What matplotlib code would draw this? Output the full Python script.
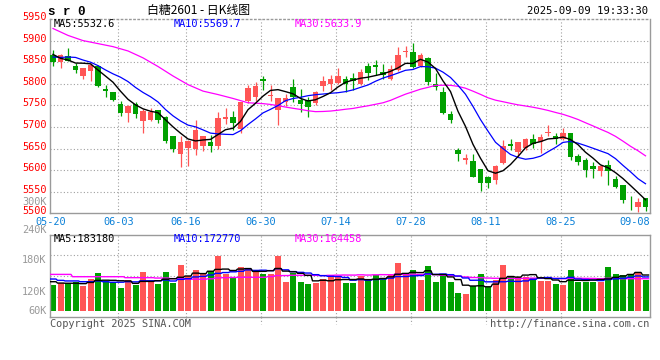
import numpy as np
import matplotlib
matplotlib.use('Agg')
import matplotlib.pyplot as plt
from matplotlib import transforms

plt.rcParams.update({
    'font.family': 'DejaVu Sans Mono',
    'font.size': 7.2,
    'figure.facecolor': 'white',
    'axes.facecolor': 'white',
})

RED = '#FF5555'
GREEN = '#00A000'
GRID = '#A0A0A0'
BORDER = '#9A9A9A'

# ---- daily candles 05-20 .. 09-09 ----
opens = [5867, 5850, 5864, 5842, 5817, 5829, 5841, 5789, 5780, 5752,
         5732, 5754, 5714, 5715, 5740, 5724, 5678, 5638, 5651, 5649,
         5657, 5665, 5657, 5718, 5724, 5695, 5760, 5769, 5810, 5771,
         5740, 5758, 5793, 5763, 5763, 5755, 5794, 5800, 5801, 5812,
         5814, 5800, 5842, 5843, 5827, 5810, 5832, 5874, 5874, 5840,
         5860, 5800, 5782, 5730, 5646, 5623, 5621, 5602, 5585, 5577,
         5617, 5660, 5641, 5652, 5672, 5664, 5686, 5678, 5671, 5685,
         5632, 5623, 5609, 5598, 5613, 5579, 5565, 5525, 5515, 5535]
highs = [5879, 5869, 5883, 5848, 5837, 5848, 5843, 5798, 5781, 5759,
         5750, 5757, 5741, 5745, 5740, 5726, 5678, 5678, 5669, 5715,
         5680, 5681, 5734, 5743, 5736, 5757, 5796, 5805, 5817, 5796,
         5767, 5777, 5812, 5787, 5769, 5783, 5817, 5820, 5836, 5819,
         5826, 5834, 5847, 5856, 5846, 5843, 5886, 5888, 5894, 5872,
         5861, 5824, 5793, 5736, 5651, 5637, 5637, 5603, 5587, 5612,
         5669, 5672, 5666, 5675, 5683, 5683, 5704, 5687, 5697, 5687,
         5638, 5629, 5618, 5611, 5624, 5586, 5565, 5540, 5535, 5536]
lows = [5842, 5836, 5852, 5824, 5810, 5806, 5792, 5769, 5759, 5725,
        5711, 5720, 5686, 5714, 5708, 5663, 5642, 5608, 5610, 5635,
        5644, 5642, 5650, 5706, 5694, 5687, 5756, 5760, 5785, 5761,
        5704, 5749, 5758, 5734, 5724, 5750, 5783, 5786, 5800, 5780,
        5785, 5796, 5809, 5821, 5811, 5809, 5830, 5863, 5836, 5838,
        5798, 5786, 5729, 5709, 5621, 5615, 5583, 5552, 5558, 5569,
        5615, 5646, 5631, 5646, 5652, 5640, 5680, 5660, 5669, 5623,
        5611, 5585, 5582, 5587, 5565, 5559, 5525, 5508, 5502, 5505]
closes = [5850, 5866, 5853, 5833, 5836, 5843, 5794, 5783, 5762, 5732,
          5749, 5730, 5737, 5734, 5715, 5667, 5648, 5664, 5667, 5692,
          5678, 5655, 5720, 5723, 5709, 5757, 5791, 5794, 5806, 5775,
          5766, 5768, 5769, 5752, 5746, 5780, 5806, 5812, 5819, 5800,
          5806, 5827, 5824, 5838, 5820, 5835, 5867, 5876, 5838, 5867,
          5803, 5793, 5732, 5715, 5638, 5628, 5585, 5571, 5571, 5609,
          5657, 5657, 5664, 5672, 5660, 5677, 5688, 5671, 5687, 5631,
          5618, 5600, 5603, 5609, 5598, 5561, 5531, 5523, 5527, 5515]
volumes = [135, 144, 147, 152, 132, 166, 197, 152, 149, 121,
           161, 135, 202, 149, 138, 202, 147, 239, 182, 213,
           190, 208, 287, 190, 176, 228, 220, 213, 192, 192,
           287, 151, 196, 151, 140, 144, 166, 183, 178, 145,
           145, 180, 166, 187, 166, 187, 249, 187, 213, 161,
           234, 151, 187, 151, 93, 88, 130, 192, 126, 161,
           239, 177, 177, 178, 173, 157, 156, 140, 135, 213,
           152, 152, 152, 149, 228, 192, 187, 192, 202, 161]

# moving averages before enough days are on the chart
ma5_head = [5868, 5859, 5855, 5848]
ma10_head = [5862, 5861, 5862, 5861, 5855, 5850, 5842, 5832, 5823]
ma30_head_idx = [0, 2, 4, 6, 8, 10, 12, 14, 16, 18, 20, 22, 24, 26, 28]
ma30_head = [5928, 5912, 5900, 5893, 5886, 5876, 5860, 5840, 5818, 5798,
             5783, 5775, 5766, 5756, 5754]
vma5_head = [152, 145, 144, 144]
vma10_head = [166, 159, 156, 156, 152, 152, 156, 152, 149]
vma30_head = [190, 190, 190, 178, 178, 178, 178, 178, 178, 178,
              173, 173, 173, 173, 171, 171, 168, 168, 165, 165,
              165, 167, 172, 173, 174, 175, 175, 175, 175]

date_labels = ['05-20', '06-03', '06-16', '06-30', '07-14',
               '07-28', '08-11', '08-25', '09-08']
date_idx = [0, 9, 18, 28, 38, 48, 58, 68, 78]
price_ticks = [5500, 5550, 5600, 5650, 5700, 5750, 5800, 5850, 5900, 5950]
vol_labels = ['240K', '180K', '120K', '60K']


def rolling(vals, n, head):
    out = list(head)
    for i in range(len(head), len(vals)):
        out.append(np.mean(vals[i - n + 1:i + 1]))
    return np.array(out)


W, H = 660, 360


def fx(px):
    return px / W


def fy(py):
    return 1 - py / H


fig = plt.figure(figsize=(6.6, 3.6), dpi=100)
ax_p = fig.add_axes([fx(50), fy(213.3), 600 / W, (213.3 - 19) / H])
ax_v = fig.add_axes([fx(50), fy(317.4), 600 / W, (317.4 - 234.6) / H])

n = len(closes)
x = np.arange(n)
o, h, l, c = map(np.array, (opens, highs, lows, closes))
vol = np.array(volumes)
cols = np.where(c >= o, RED, GREEN)

# ---- price panel ----
ax = ax_p
ax.set_xlim(-0.4, 79.6)
ax.set_ylim(5500, 5950)
for p in price_ticks[1:-1]:
    ax.axhline(p, color=GRID, lw=0.8, ls=(0, (1, 2)), zorder=0)
for d in date_idx[1:-1]:
    ax.axvline(d - 0.3, color=GRID, lw=0.8, ls=(0, (1, 2)), zorder=0)
    ax_v.axvline(d - 0.3, color=GRID, lw=0.8, ls=(0, (1, 2)), zorder=0)
    ax_v.plot([d - 0.3, d - 0.3], [0, -0.08], color=GRID, lw=0.8,
              ls=(0, (1, 2)), transform=ax_v.get_xaxis_transform(), clip_on=False)

ax.vlines(x, l, h, colors=cols, lw=0.9, zorder=2)
body_lo = np.minimum(o, c)
body_h = np.maximum(np.abs(c - o), 1.5)
ax.bar(x, body_h, bottom=body_lo, width=0.74, color=cols, lw=0, zorder=3)

ma5 = rolling(c, 5, ma5_head)
ma10 = rolling(c, 10, ma10_head)
ma30_tail = [np.mean(c[i - 29:i + 1]) for i in range(29, n)]
ma30_x = ma30_head_idx + list(range(29, n))
ma30_y = ma30_head + ma30_tail
ax.plot(ma30_x, ma30_y, color='#FF00FF', lw=0.9, zorder=4)
ax.plot(x, ma10, color='#0000FF', lw=0.9, zorder=4)
ax.plot(x, ma5, color='black', lw=1.0, zorder=5)

ax.set_xticks([])
ax.set_yticks([])
for s in ax.spines.values():
    s.set_color(BORDER)
    s.set_linewidth(1)
ax.spines['top'].set_linestyle((0, (1, 2)))

lab_tr = transforms.offset_copy(ax.get_yaxis_transform(), fig=fig, y=2, units='dots')
for p in price_ticks:
    ax.text(-0.006, p, str(p), color='#FF0000', ha='right', va='center',
            transform=lab_tr, fontsize=7.4)
fig.text(fx(46.5), fy(201.7), '300K', color='#999999', ha='right', va='center',
         fontsize=7.4)

for lbl, d in zip(date_labels, date_idx):
    xx = d - 0.3 if d < 78 else d - 0.5
    ax.text(xx, -0.043, lbl, color='#0A80D8', ha='center', va='center',
            transform=ax.get_xaxis_transform(), fontsize=7.4)

# ---- volume panel ----
ax = ax_v
ax.set_xlim(-0.4, 79.6)
ax.set_ylim(-33.2, 396.5)
for f in (0.25, 0.5, 0.75):
    ax.axhline(-33.2 + f * (396.5 + 33.2), color=GRID, lw=0.8, ls=(0, (1, 2)), zorder=0)
ax.bar(x, vol, width=0.8, color=cols, lw=0, zorder=2)

vma5 = rolling(vol, 5, vma5_head)
vma10 = rolling(vol, 10, vma10_head)
vma30 = rolling(vol, 30, vma30_head)


def steps(vals):
    xs = np.ravel(np.column_stack([x - 0.4, x + 0.4]))
    ys = np.repeat(vals, 2)
    return xs, ys


for vals, colr in ((vma30, '#FF00FF'), (vma10, '#0000FF'), (vma5, 'black')):
    ax.plot(*steps(vals), color=colr, lw=1.0, zorder=4)

ax.set_xticks([])
ax.set_yticks([])
for s in ax.spines.values():
    s.set_color(BORDER)
    s.set_linewidth(1)

for lbl, py in zip(vol_labels, [230, 260, 292, 311]):
    fig.text(fx(46.5), fy(py), lbl, color='#999999', ha='right', va='center',
             fontsize=7.4)

# ---- header / footer texts ----
fig.text(fx(48), fy(12), 's r 0', fontfamily='Liberation Mono', fontweight='bold',
         fontsize=9, ha='left', va='center')
fig.text(fx(199), fy(10.5), '白糖2601 - 日K线图', ha='center', va='center',
         fontsize=8.6, family=['Noto Sans CJK SC', 'DejaVu Sans'])
fig.text(fx(648), fy(11.5), '2025-09-09 19:33:30', ha='right', va='center',
         fontsize=7.6)

fig.text(fx(54), fy(24), 'MA5:5532.6', color='black', va='center', fontsize=7.4)
fig.text(fx(174), fy(24), 'MA10:5569.7', color='#0000FF', va='center', fontsize=7.4)
fig.text(fx(295), fy(24), 'MA30:5633.9', color='#FF00FF', va='center', fontsize=7.4)

fig.text(fx(54), fy(239.5), 'MA5:183180', color='black', va='center', fontsize=7.4)
fig.text(fx(174), fy(239.5), 'MA10:172770', color='#0000FF', va='center', fontsize=7.4)
fig.text(fx(295), fy(239.5), 'MA30:164458', color='#FF00FF', va='center', fontsize=7.4)

fig.text(fx(50), fy(324), 'Copyright 2025 SINA.COM', color='#555555', ha='left',
         va='center', fontsize=7.4)
fig.text(fx(649), fy(324), 'http://finance.sina.com.cn', color='#555555', ha='right',
         va='center', fontsize=7.4)

fig.savefig('out.png', dpi=100)
